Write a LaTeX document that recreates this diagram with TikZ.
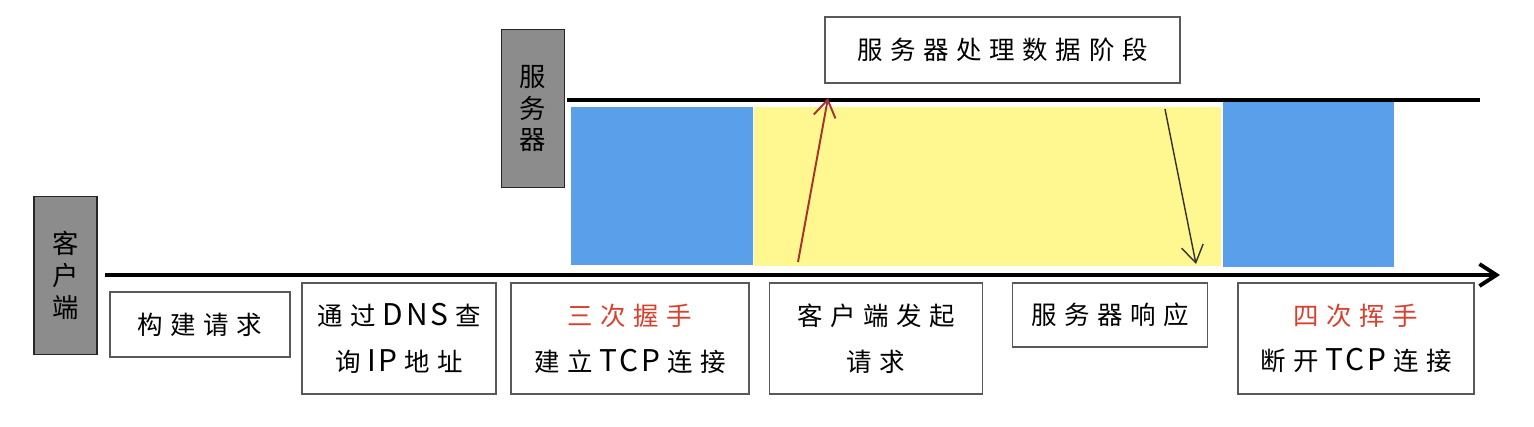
\documentclass[tikz,border=0pt]{standalone}
\usepackage{fontspec}
\setmainfont{Noto Sans CJK SC}
\newfontfamily\hand[LetterSpace=30]{Noto Sans CJK SC}
\newfontfamily\handlatin[LetterSpace=10]{Noto Sans CJK SC}
\newcommand\latn[1]{\kern1.3mm{\handlatin\fontsize{17}{26}\selectfont #1}\kern1.3mm}
\usetikzlibrary{positioning}
\usetikzlibrary{arrows.meta}
\tikzset{>={Straight Barb[width=4.4mm,length=3.4mm]}}
\definecolor{tcpblue}{HTML}{5A9FEA}
\definecolor{waityellow}{HTML}{FFF78F}
\definecolor{sidegray}{HTML}{8C8C8C}
\definecolor{shakered}{HTML}{D9412F}
\definecolor{reqred}{HTML}{A8322D}

\begin{document}
\begin{tikzpicture}[x=0.2mm, y=-0.2mm, stage/.style={draw=black!65, thick, fill=white, align=center, font=\hand\fontsize{14.5}{26}\selectfont}, side/.style={draw=black!85, thick, fill=sidegray, align=center, minimum width=12.6mm, minimum height=31.5mm, font=\fontsize{15}{18}\selectfont}, timeline/.style={line width=2.2pt}]
    \useasboundingbox (0,0) rectangle (1534,426);

    %Blocks
    \fill[tcpblue] (571,107) rectangle (753,265);
    \fill[waityellow] (754,107) rectangle (1221,266);
    \fill[tcpblue] (1223,101) rectangle (1394,267);

    %Nodes
    \node[side](client) at (65.5,275.5){客\\户\\端};
    \node[side](server) at (533,108.5){服\\务\\器};
    \node[stage, minimum width=71mm, minimum height=13.2mm](process) at (1002.5,50){服务器处理数据阶段};
    \node[stage, minimum width=36mm, minimum height=13mm](build) at (200,324.5){构建请求};
    \node[stage, minimum width=38.8mm, minimum height=22.2mm](dns) at (399,338.5){通过\latn{DNS}查\\询\latn{IP}地址};
    \node[stage, minimum width=47.6mm, minimum height=22.2mm](handshake) at (630,338.5){{\color{shakered}三次握手}\\建立\latn{TCP}连接};
    \node[stage, minimum width=42.6mm, minimum height=22.2mm](request) at (876,338.5){客户端发起\\请求};
    \node[stage, minimum width=39mm, minimum height=12.8mm](response) at (1110,315){服务器响应};
    \node[stage, minimum width=47.2mm, minimum height=22.2mm](wave) at (1356,338.5){{\color{shakered}四次挥手}\\断开\latn{TCP}连接};

    %Lines
    \coordinate (cstart) at (105,275);
    \coordinate (cend) at (1500,275);
    \coordinate (sstart) at (567,100);
    \coordinate (send) at (1480,100);
    \coordinate (reqfrom) at (798,262);
    \coordinate (reqto) at (828,98);
    \coordinate (resfrom) at (1165,109);
    \coordinate (resto) at (1196,264);
    \draw[timeline, ->] (cstart) -- (cend);
    \draw[timeline] (sstart) -- (send);
    \draw[->, reqred, line width=1.1pt] (reqfrom) -- (reqto);
    \draw[->, black!80, line width=0.8pt] (resfrom) -- (resto);

\end{tikzpicture}
\end{document}
